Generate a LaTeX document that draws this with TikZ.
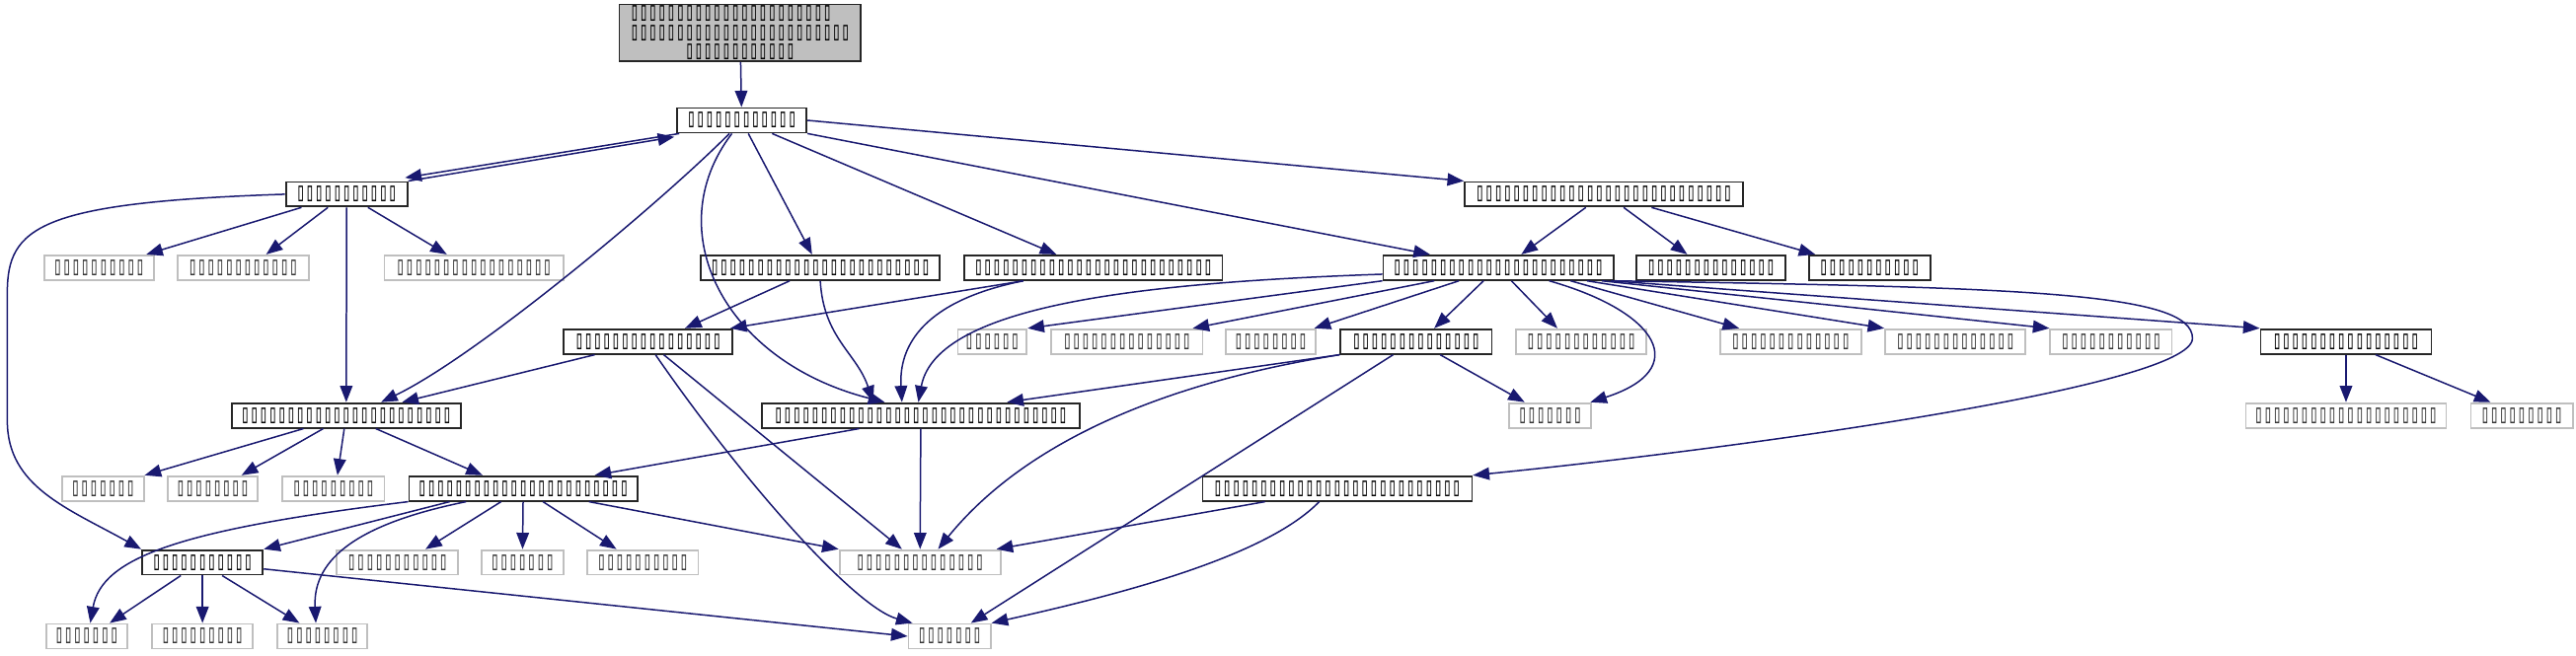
\documentclass[tikz,border=0pt]{standalone}
\usepackage{fontspec}
\newfontfamily\boxfont[FakeStretch=0.58]{DejaVu Sans Mono}
\usetikzlibrary{arrows.meta}
\definecolor{edgeblue}{HTML}{191970}
\definecolor{hdrgray}{HTML}{BFBFBF}
\definecolor{sysgray}{HTML}{BFBFBF}

\begin{document}
\begin{tikzpicture}[x=0.5pt, y=-0.5pt, >={Triangle[length=5pt, width=3.8pt]},
    incl/.style={draw=black!85, line width=0.55pt, fill=white, inner sep=0.5pt,
      minimum height=7.5pt, font=\boxfont\fontsize{8pt}{4.4pt}\selectfont},
    extl/.style={incl, draw=sysgray, text=black!80},
    edge/.style={->, draw=edgeblue, line width=0.45pt}]
  \useasboundingbox (0,0) rectangle (1568,399);

  % Header
  \node[incl, fill=hdrgray, align=center, minimum width=73.5pt, minimum height=16.8pt,
    font=\boxfont\fontsize{8pt}{4.6pt}\selectfont] (root) at (450.5,20)
    {▯▯▯▯▯▯▯▯▯▯▯▯▯▯▯▯▯▯▯▯▯▯\hphantom{▯▯}\\▯▯▯▯▯▯▯▯▯▯▯▯▯▯▯▯▯▯▯▯▯▯▯▯\\▯▯▯▯▯▯▯▯▯▯▯▯};

  % Row 1 - 2
  \node[incl, minimum width=39.5pt] (N1) at (451.5,73.3) {▯▯▯▯▯▯▯▯▯▯▯▯};
  \node[incl, minimum width=37pt] (N2) at (211,118.3) {▯▯▯▯▯▯▯▯▯▯▯};
  \node[incl, minimum width=84.7pt] (N3) at (976.3,118.3) {▯▯▯▯▯▯▯▯▯▯▯▯▯▯▯▯▯▯▯▯▯▯▯▯▯▯▯▯};

  % Row 3
  \node[extl, minimum width=33.25pt] (G1) at (60.25,163) {▯▯▯▯▯▯▯▯▯▯};
  \node[extl, minimum width=40pt] (G2) at (148,163) {▯▯▯▯▯▯▯▯▯▯▯▯};
  \node[extl, minimum width=54.5pt] (G3) at (288.5,163) {▯▯▯▯▯▯▯▯▯▯▯▯▯▯▯▯▯};
  \node[incl, minimum width=72.7pt] (N4) at (499.3,163) {▯▯▯▯▯▯▯▯▯▯▯▯▯▯▯▯▯▯▯▯▯▯▯▯};
  \node[incl, minimum width=78.5pt] (N5) at (665.5,163) {▯▯▯▯▯▯▯▯▯▯▯▯▯▯▯▯▯▯▯▯▯▯▯▯▯▯};
  \node[incl, minimum width=70pt] (N6) at (912,163) {▯▯▯▯▯▯▯▯▯▯▯▯▯▯▯▯▯▯▯▯▯▯▯};
  \node[incl, minimum width=45.5pt] (N7) at (1041.5,163) {▯▯▯▯▯▯▯▯▯▯▯▯▯▯};
  \node[incl, minimum width=37pt] (N8) at (1138,163) {▯▯▯▯▯▯▯▯▯▯▯};

  % Row 4
  \node[incl, minimum width=51.5pt] (N9) at (394.5,208) {▯▯▯▯▯▯▯▯▯▯▯▯▯▯▯▯};
  \node[extl, minimum width=21pt] (G4) at (604,208) {▯▯▯▯▯▯};
  \node[extl, minimum width=46pt] (G5) at (686,208) {▯▯▯▯▯▯▯▯▯▯▯▯▯▯};
  \node[extl, minimum width=27.5pt] (G6) at (773.5,208) {▯▯▯▯▯▯▯▯};
  \node[incl, minimum width=46pt] (N10) at (862,208) {▯▯▯▯▯▯▯▯▯▯▯▯▯▯};
  \node[extl, minimum width=39.5pt] (G7) at (962.5,208) {▯▯▯▯▯▯▯▯▯▯▯▯};
  \node[extl, minimum width=43pt] (G8) at (1090,208) {▯▯▯▯▯▯▯▯▯▯▯▯▯};
  \node[extl, minimum width=42.75pt] (G9) at (1190.25,208) {▯▯▯▯▯▯▯▯▯▯▯▯▯};
  \node[extl, minimum width=37pt] (G10) at (1285,208) {▯▯▯▯▯▯▯▯▯▯▯};
  \node[incl, minimum width=52pt] (N11) at (1428,208) {▯▯▯▯▯▯▯▯▯▯▯▯▯▯▯▯};

  % Row 5
  \node[incl, minimum width=69.75pt] (N12) at (210.75,253) {▯▯▯▯▯▯▯▯▯▯▯▯▯▯▯▯▯▯▯▯▯▯▯};
  \node[incl, minimum width=96.5pt] (N13) at (560.5,253) {▯▯▯▯▯▯▯▯▯▯▯▯▯▯▯▯▯▯▯▯▯▯▯▯▯▯▯▯▯▯▯▯};
  \node[extl, minimum width=24.95pt] (G11) at (943.55,253) {▯▯▯▯▯▯▯};
  \node[extl, minimum width=61pt] (G12) at (1428,253) {▯▯▯▯▯▯▯▯▯▯▯▯▯▯▯▯▯▯▯▯};
  \node[extl, minimum width=31pt] (G13) at (1535,253) {▯▯▯▯▯▯▯▯▯};

  % Row 6
  \node[extl, minimum width=24.75pt] (G14) at (62.75,297.5) {▯▯▯▯▯▯▯};
  \node[extl, minimum width=27.5pt] (G15) at (129.5,297.5) {▯▯▯▯▯▯▯▯};
  \node[extl, minimum width=31pt] (G16) at (203,297.5) {▯▯▯▯▯▯▯▯▯};
  \node[incl, minimum width=69.5pt] (N14) at (318.5,297.5) {▯▯▯▯▯▯▯▯▯▯▯▯▯▯▯▯▯▯▯▯▯▯▯};
  \node[incl, minimum width=82pt] (N15) at (814,297.5) {▯▯▯▯▯▯▯▯▯▯▯▯▯▯▯▯▯▯▯▯▯▯▯▯▯▯▯};

  % Row 7
  \node[incl, minimum width=36.75pt] (N16) at (123.25,342.5) {▯▯▯▯▯▯▯▯▯▯▯};
  \node[extl, minimum width=37pt] (G17) at (242,342.5) {▯▯▯▯▯▯▯▯▯▯▯};
  \node[extl, minimum width=25pt] (G18) at (318,342.5) {▯▯▯▯▯▯▯};
  \node[extl, minimum width=33.75pt] (G19) at (391.25,342.5) {▯▯▯▯▯▯▯▯▯▯};
  \node[extl, minimum width=49pt] (G20) at (560,342.5) {▯▯▯▯▯▯▯▯▯▯▯▯▯▯};

  % Row 8
  \node[extl, minimum width=24.75pt] (G21) at (52.75,387.5) {▯▯▯▯▯▯▯};
  \node[extl, minimum width=30.75pt] (G22) at (123.25,387.5) {▯▯▯▯▯▯▯▯▯};
  \node[extl, minimum width=27.25pt] (G23) at (196.25,387.5) {▯▯▯▯▯▯▯▯};
  \node[extl, minimum width=25pt] (G24) at (578,387.5) {▯▯▯▯▯▯▯};

  % Edges from the header and N1
  \draw[edge] (root) -- (N1);
  \draw[edge] (N2.north east) -- ([xshift=-0.5pt, yshift=-1pt]N1.south west);
  \draw[edge] ([xshift=1pt]N1.south west) -- ([xshift=-1pt, yshift=1pt]N2.north east);
  \draw[edge] (N1.east) -- (N3.north west);
  \draw[edge] (N1.south east) -- ([xshift=14.5pt]N6.north west);
  \draw[edge] ([xshift=9.25pt]N1.south) -- ([xshift=-11.25pt]N5.north);
  \draw[edge] ([xshift=2pt]N1.south) -- ([xshift=-2.5pt]N4.north);
  \draw[edge] ([xshift=-3.75pt]N1.south) .. controls +(-44,44) and +(58,-28) .. ([xshift=10.6pt]N12.north);
  \draw[edge] ([xshift=-3pt]N1.south) .. controls +(-45,59) and +(-98,-25) .. ([xshift=-11pt]N13.north);

  % N2
  \draw[edge] ([xshift=-13.75pt]N2.south) -- ([xshift=-2.5pt]G1.north east);
  \draw[edge] ([xshift=-5.7pt]N2.south) -- ([xshift=7pt]G2.north);
  \draw[edge] ([xshift=6.5pt]N2.south) -- ([xshift=-8.25pt]G3.north);
  \draw[edge] (N2) -- (N12);
  \draw[edge] (N2.west) .. controls +(-150,5) and +(0,-40) .. ++(-169,60) -- ++(0,78)
    .. controls +(0,40) and +(-45,-25) .. (N16.north west);

  % N3
  \draw[edge] ([xshift=-5.5pt]N3.south) -- ([xshift=7pt]N6.north);
  \draw[edge] ([xshift=6pt]N3.south) -- ([xshift=-7.25pt]N7.north);
  \draw[edge] ([xshift=14.5pt]N3.south) -- ([xshift=2.25pt]N8.north west);

  % N4, N5
  \draw[edge] ([xshift=-9.3pt]N4.south) -- ([xshift=11.25pt]N9.north);
  \draw[edge] (N4.south) .. controls +(2,35) and +(-10,-30) .. ([xshift=-14.5pt]N13.north);
  \draw[edge] ([xshift=-21.3pt]N5.south) -- ([xshift=-1pt]N9.north east);
  \draw[edge] ([xshift=-21.3pt]N5.south) .. controls +(-60,12) and +(-2,-35) .. ([xshift=-5.75pt]N13.north);

  % N6
  \draw[edge] ([yshift=-2pt]N6.west) .. controls +(-142,5) and +(11,-60) .. ([xshift=-0.75pt]N13.north);
  \draw[edge] (N6.south west) -- (G4.north east);
  \draw[edge] ([xshift=-19.5pt]N6.south) -- ([xshift=20pt]G5.north);
  \draw[edge] ([xshift=-12pt]N6.south) -- ([xshift=13.25pt]G6.north);
  \draw[edge] ([xshift=-4.5pt]N6.south) -- ([xshift=5.5pt]N10.north);
  \draw[edge] ([xshift=4pt]N6.south) -- ([xshift=-7.25pt]G7.north);
  \draw[edge] ([xshift=15.5pt]N6.south) .. controls +(67,19) and +(62,-20) .. ([xshift=-0.5pt]G11.north east);
  \draw[edge] ([xshift=22pt]N6.south) -- ([xshift=-15.7pt]G8.north);
  \draw[edge] ([xshift=27pt]N6.south) -- (G9.north west);
  \draw[edge] ([xshift=31.5pt]N6.south) -- (G10.north west);
  \draw[edge] ([xshift=-1pt]N6.south east) -- (N11.north west);
  \draw[edge] (N6.south east) .. controls +(250,4) and +(0,-28) .. ++(352,35)
    .. controls +(0,30) and +(150,-15) .. (N15.north east);

  % N10, N11
  \draw[edge] (N10.south west) -- ([xshift=26.25pt]N13.north);
  \draw[edge] (N10.south west) .. controls +(-56,9) and +(69,-85) .. ([xshift=5.5pt]G20.north);
  \draw[edge] ([xshift=-7pt]N10.south) -- ([xshift=6.5pt]G24.north);
  \draw[edge] ([xshift=7.3pt]N10.south) -- ([xshift=-7.75pt]G11.north);
  \draw[edge] (N11) -- (G12);
  \draw[edge] ([xshift=9pt]N11.south) -- ([xshift=-9.5pt]G13.north);

  % N9
  \draw[edge] ([xshift=-16.25pt]N9.south) -- ([xshift=17pt]N12.north);
  \draw[edge] ([xshift=4.75pt]N9.south) -- ([xshift=-5.5pt]G20.north);
  \draw[edge] ([xshift=2.25pt]N9.south) .. controls +(51,74) and +(-36,-10) .. ([xshift=1.5pt]G24.north west);

  % N12, N13
  \draw[edge] ([xshift=-13pt]N12.south) -- (G14.north east);
  \draw[edge] ([xshift=-7pt]N12.south) -- ([xshift=8.75pt]G15.north);
  \draw[edge] ([xshift=-0.6pt]N12.south) -- ([xshift=1.2pt]G16.north);
  \draw[edge] ([xshift=9pt]N12.south) -- ([xshift=-12.4pt]N14.north);
  \draw[edge] ([xshift=-18.75pt]N13.south) -- ([xshift=21.75pt]N14.north);
  \draw[edge] (N13) -- (G20);

  % N14, N15, N16
  \draw[edge] ([xshift=-22.4pt]N14.south) -- (N16.north east);
  \draw[edge] (N14.south west) .. controls +(-139,17) and +(7,-40) .. ([xshift=1.1pt]G21.north);
  \draw[edge] ([xshift=-17.4pt]N14.south) .. controls +(-64,13) and +(-2,-40) .. ([xshift=-2pt]G23.north);
  \draw[edge] ([xshift=-6.75pt]N14.south) -- ([xshift=8.5pt]G17.north);
  \draw[edge] (N14) -- (G18);
  \draw[edge] ([xshift=6pt]N14.south) -- ([xshift=-8pt]G19.north);
  \draw[edge] ([xshift=20pt]N14.south) -- (G20.north west);
  \draw[edge] ([xshift=-22pt]N15.south) -- ([xshift=-1.5pt]G20.north east);
  \draw[edge] ([xshift=-5.5pt]N15.south) .. controls +(-33,34) and +(76,-17) .. (G24.north east);
  \draw[edge] ([xshift=-6.6pt]N16.south) -- ([xshift=7pt]G21.north);
  \draw[edge] (N16) -- (G22);
  \draw[edge] ([xshift=6pt]N16.south) -- ([xshift=-7pt]G23.north);
  \draw[edge] ([yshift=-2pt]N16.east) -- (G24.west);
\end{tikzpicture}
\end{document}
